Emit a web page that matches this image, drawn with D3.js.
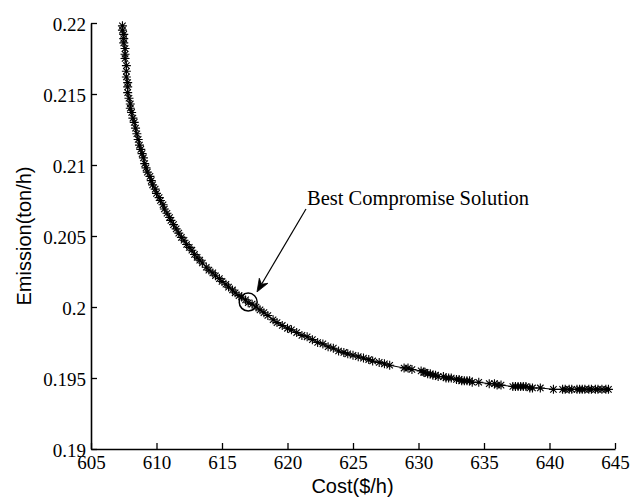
<!DOCTYPE html>
<html>
<head>
<meta charset="utf-8">
<script src="https://cdn.jsdelivr.net/npm/d3@7"></script>
<style>
  body { margin: 0; background: #fff; }
  .tick text { font-family: "Liberation Serif", "Times New Roman", serif; }
</style>
</head>
<body>
<div id="my-chart"></div>
<script>

// pareto front points: cost ($/h) and emission (ton/h)
var cost = [
  607.4, 607.4, 607.5, 607.5, 607.5, 607.6, 607.6, 607.6, 607.7, 607.7,
  607.7, 607.8, 607.8, 607.8, 607.9, 608.0, 608.0, 608.1, 608.2, 608.3,
  608.4, 608.5, 608.6, 608.7, 608.8, 608.9, 609.0, 609.1, 609.2, 609.3,
  609.5, 609.6, 609.7, 609.9, 610.0, 610.2, 610.3, 610.5, 610.6, 610.8,
  611.0, 611.1, 611.3, 611.5, 611.7, 611.9, 612.1, 612.3, 612.5, 612.7,
  612.9, 613.1, 613.3, 613.5, 613.8, 614.0, 614.3, 614.5, 614.8, 615.0,
  615.3, 615.5, 615.8, 616.0, 616.3, 616.5, 616.8, 617.0, 617.3, 617.6,
  617.9, 618.2, 618.5, 618.9, 619.2, 619.6, 620.0, 620.3, 620.7, 621.1,
  621.5, 621.9, 622.3, 622.7, 623.1, 623.5, 623.9, 624.3, 624.6, 625.0,
  625.4, 625.8, 626.2, 626.5, 627.0, 627.4, 627.8, 628.9, 629.2, 629.5,
  630.2, 630.4, 630.5, 630.7, 630.9, 631.1, 631.3, 631.5,
  631.9, 632.1, 632.3, 632.5,
  632.9, 633.1, 633.3, 633.5, 633.7, 633.9, 634.1,
  634.6, 635.4, 635.8, 636.0, 636.3,
  637.2, 637.4, 637.6, 637.8, 638.0, 638.2, 638.5, 638.7,
  639.3, 640.3, 641.0, 641.2, 641.5, 641.7, 642.1, 642.3, 642.5, 642.7,
  643.0, 643.2, 643.5, 643.7, 644.0, 644.3, 644.5
];
var emission = [
  0.2198, 0.2195, 0.2192, 0.2189, 0.2186, 0.2182, 0.2178, 0.2175, 0.2170, 0.2166,
  0.2162, 0.2158, 0.2155, 0.2151, 0.2147, 0.2143, 0.2140, 0.2137, 0.2133, 0.2130,
  0.2126, 0.2122, 0.2118, 0.2114, 0.2111, 0.2108, 0.2105, 0.2101, 0.2098, 0.2095,
  0.2092, 0.2089, 0.2086, 0.2083, 0.2080, 0.2077, 0.2075, 0.2072, 0.2069, 0.2066,
  0.2063, 0.2061, 0.2058, 0.2055, 0.2052, 0.2049, 0.2047, 0.2044, 0.2042, 0.2040,
  0.2037, 0.2035, 0.2033, 0.2031, 0.2028, 0.2026, 0.2024, 0.2022, 0.2020, 0.2018,
  0.2016, 0.2014, 0.2012, 0.2010, 0.2008, 0.2007, 0.2005, 0.2003, 0.2002, 0.2000,
  0.1998, 0.1996, 0.1994, 0.1991, 0.1989, 0.1987, 0.1985, 0.1984, 0.1982, 0.1980,
  0.1979, 0.1977, 0.1975, 0.1974, 0.1972, 0.1971, 0.1969, 0.1968, 0.1967, 0.1966,
  0.1965, 0.1964, 0.1963, 0.1962, 0.1961, 0.1960, 0.1959, 0.1957, 0.1957, 0.1956,
  0.1955, 0.1954, 0.1954, 0.1953, 0.1953, 0.1952, 0.1952, 0.1951,
  0.1951, 0.1950, 0.1950, 0.1950,
  0.1949, 0.1949, 0.1948, 0.1948, 0.1948, 0.1948, 0.1947,
  0.1947, 0.1946, 0.1946, 0.1945, 0.1945,
  0.1944, 0.1944, 0.1944, 0.1944, 0.1944, 0.1944, 0.1943, 0.1943,
  0.1943, 0.1942, 0.1942, 0.1942, 0.1942, 0.1942, 0.1942, 0.1942, 0.1942, 0.1942,
  0.1942, 0.1942, 0.1942, 0.1942, 0.1942, 0.1942, 0.1942
];

// axis ticks
var xTicks = [605, 610, 615, 620, 625, 630, 635, 640, 645];
var yTicks = [0.19, 0.195, 0.2, 0.205, 0.21, 0.215, 0.22];
var yTickLabels = ['0.19', '0.195', '0.2', '0.205', '0.21', '0.215', '0.22'];

// best compromise solution and where its label sits
var best = {cost: 617.0, emission: 0.20035};
var note = {text: 'Best Compromise Solution', cost: 621.49, emission: 0.20718};
var arrowFrom = {cost: 621.41, emission: 0.20690};
var arrowTo = {cost: 617.67, emission: 0.20106};

var data = cost.map(function(c, i) { return {cost: c, emission: emission[i]}; });

var serif = '"Liberation Serif", "Times New Roman", serif';
var sans = '"Liberation Sans", Arial, sans-serif';

// dimensions
var W = 632, H = 497;
var margin = {top: 23, right: 17, bottom: 48, left: 91},
width = W - margin.left - margin.right,
height = H - margin.top - margin.bottom;

var svg = d3.select('#my-chart')
    .append('svg')
    .attr('width', W)
    .attr('height', H)
    .attr('font-family', serif);

var g = svg.append('g')
    .attr('transform', 'translate(' + margin.left + ',' + margin.top + ')');

var x = d3.scaleLinear().domain([605, 645]).range([0, width]);
var y = d3.scaleLinear().domain([0.19, 0.22]).range([height, 0]);

// x axis, ticks pointing inward
var xAxis = g.append('g')
    .attr('transform', 'translate(0,' + height + ')')
    .call(d3.axisBottom(x).tickValues(xTicks).tickFormat(d3.format('d'))
        .tickSizeInner(-6).tickSizeOuter(0).tickPadding(7));

// y axis
var yAxis = g.append('g')
    .call(d3.axisLeft(y).tickValues(yTicks)
        .tickFormat(function(d, i) { return yTickLabels[i]; })
        .tickSizeInner(-6).tickSizeOuter(0).tickPadding(5));

[xAxis, yAxis].forEach(function(a) {
    a.attr('font-family', serif).attr('font-size', 19);
    a.select('.domain').attr('stroke', '#000').attr('stroke-width', 1.6);
    a.selectAll('.tick line').attr('stroke', '#000').attr('stroke-width', 1.3);
    a.selectAll('.tick text').attr('fill', '#000');
});
yAxis.selectAll('.tick text').attr('dy', '0.4em');

// connecting line
g.append('path')
    .datum(data)
    .attr('fill', 'none')
    .attr('stroke', '#000')
    .attr('stroke-width', 1)
    .attr('d', d3.line()
        .x(function(d) { return x(d.cost); })
        .y(function(d) { return y(d.emission); })
    );

// asterisk markers
var star = 'M-4.5,0H4.5M0,-4.5V4.5M-3.2,-3.2L3.2,3.2M-3.2,3.2L3.2,-3.2';
g.selectAll('.pt')
    .data(data)
    .enter().append('path')
    .attr('class', 'pt')
    .attr('d', star)
    .attr('transform', function(d) { return 'translate(' + x(d.cost) + ',' + y(d.emission) + ')'; })
    .attr('fill', 'none')
    .attr('stroke', '#000')
    .attr('stroke-width', 1.1);

// circle around the best compromise
g.append('circle')
    .attr('cx', x(best.cost))
    .attr('cy', y(best.emission))
    .attr('r', 9)
    .attr('fill', 'none')
    .attr('stroke', '#000')
    .attr('stroke-width', 1.5);

// arrow
var x0 = x(arrowFrom.cost), y0 = y(arrowFrom.emission),
    x1 = x(arrowTo.cost), y1 = y(arrowTo.emission);
var len = Math.sqrt((x1 - x0) * (x1 - x0) + (y1 - y0) * (y1 - y0));
var ux = (x1 - x0) / len, uy = (y1 - y0) / len;
var nx = -uy, ny = ux;
var hl = 13, hw = 5, notch = 9;

g.append('line')
    .attr('x1', x0).attr('y1', y0)
    .attr('x2', x1 - ux * notch).attr('y2', y1 - uy * notch)
    .attr('stroke', '#000')
    .attr('stroke-width', 1.2);

g.append('path')
    .attr('d', 'M' + x1 + ',' + y1 +
        'L' + (x1 - ux * hl + nx * hw) + ',' + (y1 - uy * hl + ny * hw) +
        'L' + (x1 - ux * notch) + ',' + (y1 - uy * notch) +
        'L' + (x1 - ux * hl - nx * hw) + ',' + (y1 - uy * hl - ny * hw) + 'Z')
    .attr('fill', '#000')
    .attr('stroke', '#000')
    .attr('stroke-width', 0.8);

g.append('text')
    .attr('x', x(note.cost))
    .attr('y', y(note.emission))
    .attr('font-family', serif)
    .attr('font-size', 20.5)
    .text(note.text);

// axis labels
svg.append('text')
    .attr('x', 352.5)
    .attr('y', 493)
    .attr('text-anchor', 'middle')
    .attr('font-family', sans)
    .attr('font-size', 20)
    .text('Cost($/h)');

svg.append('text')
    .attr('transform', 'translate(31,236) rotate(-90)')
    .attr('text-anchor', 'middle')
    .attr('font-family', sans)
    .attr('font-size', 20)
    .text('Emission(ton/h)');

</script>
</body>
</html>
